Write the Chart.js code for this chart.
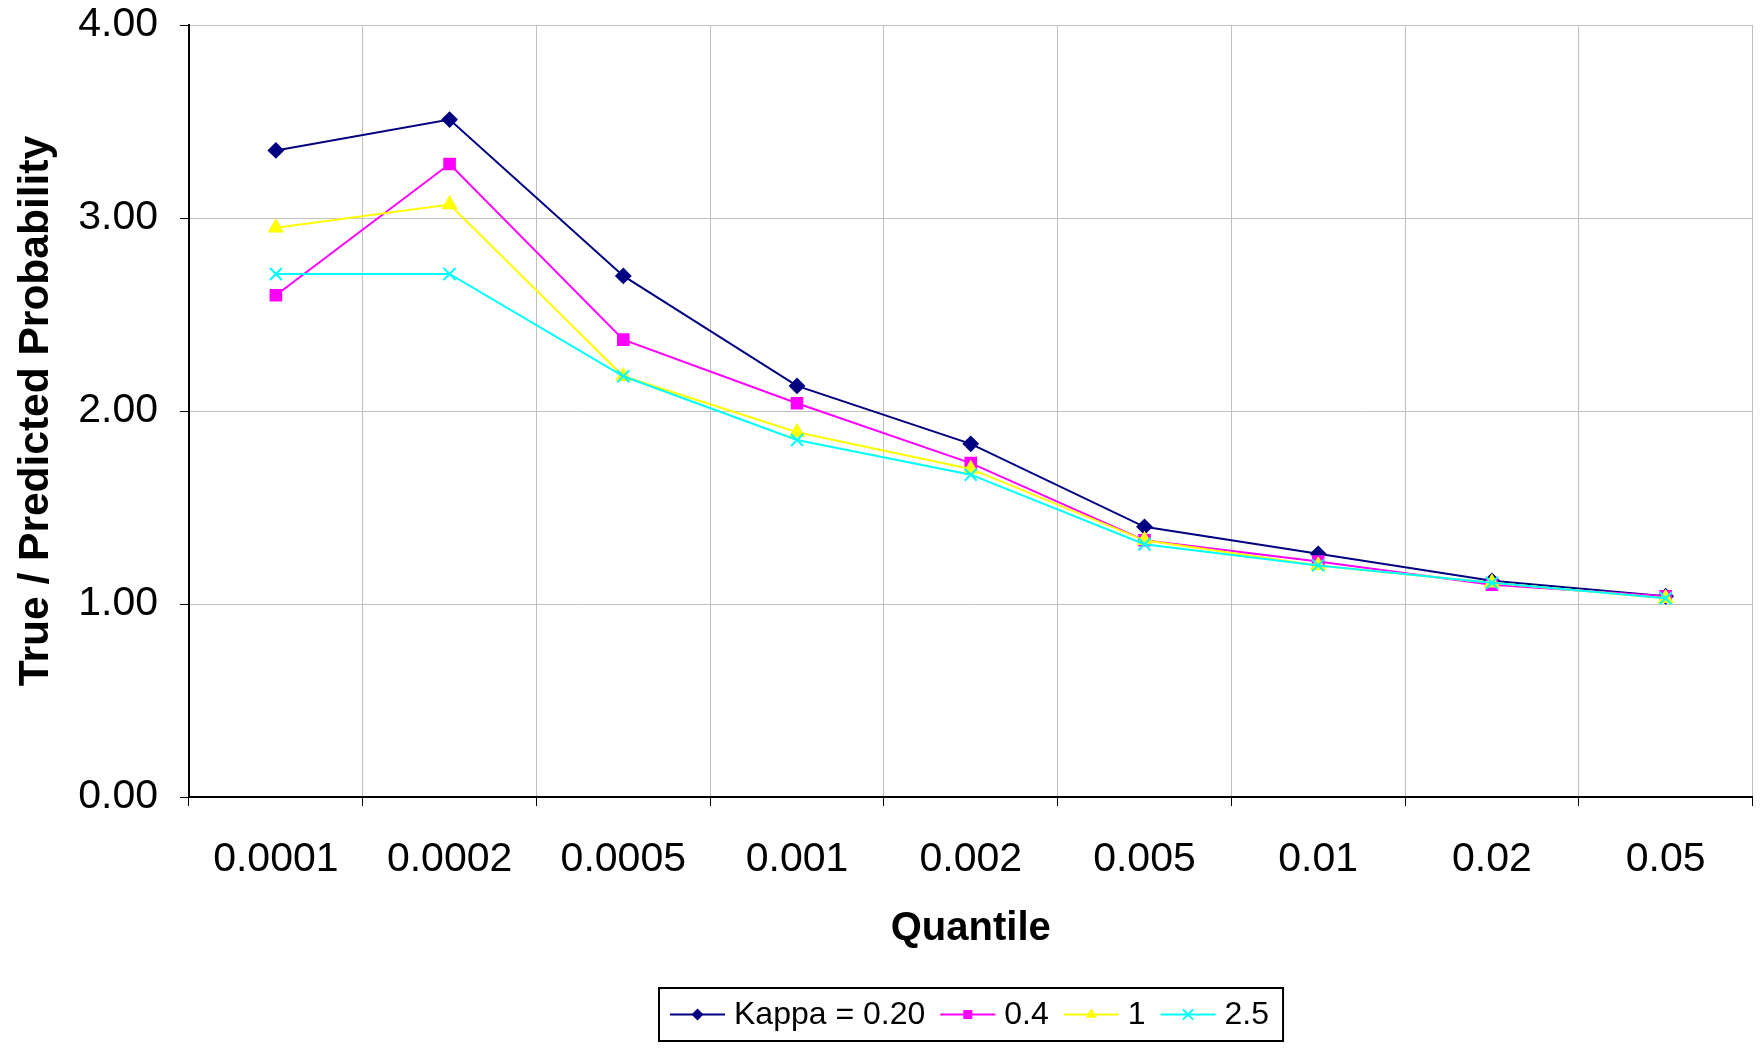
<!DOCTYPE html>
<html><head><meta charset="utf-8">
<script src="https://cdn.jsdelivr.net/npm/chart.js@4.4.0/dist/chart.umd.min.js"></script>
<style>html,body{margin:0;padding:0;background:#fff;}#wrap{width:1763px;height:1048px;position:relative;}</style>
</head><body><div id="wrap"><canvas id="c" width="1763" height="1048"></canvas></div>
<script>
const categories = ['0.0001','0.0002','0.0005','0.001','0.002','0.005','0.01','0.02','0.05'];
const seriesNames = ['Kappa = 0.20','0.4','1','2.5'];
const kappa020 = [3.35, 3.51, 2.70, 2.13, 1.83, 1.40, 1.26, 1.12, 1.04];
const kappa04  = [2.60, 3.28, 2.37, 2.04, 1.73, 1.33, 1.22, 1.10, 1.04];
const kappa1   = [2.95, 3.07, 2.18, 1.89, 1.70, 1.33, 1.20, 1.11, 1.03];
const kappa25  = [2.71, 2.71, 2.18, 1.85, 1.67, 1.31, 1.20, 1.11, 1.03];
const yTickValues = [0, 1, 2, 3, 4];
const xTitle = 'Quantile';
const yTitle = 'True / Predicted Probability';

const FONT = '"Liberation Sans", Arial, sans-serif';
const colors = ['#000080', '#FF00FF', '#FFFF00', '#00FFFF'];
const styles = ['rectRot', 'rect', 'triangle', 'crossRot'];
const radii = [7, 7.5, 7.5, 8.5];
const values = [kappa020, kappa04, kappa1, kappa25];

function marker(ctx, style, x, y, r, color) {
  ctx.save();
  ctx.fillStyle = color; ctx.strokeStyle = color; ctx.lineWidth = 2;
  ctx.beginPath();
  if (style === 'rectRot') {
    ctx.moveTo(x, y - r); ctx.lineTo(x + r, y); ctx.lineTo(x, y + r); ctx.lineTo(x - r, y); ctx.closePath();
    ctx.fill();
  } else if (style === 'rect') {
    const s = r * 0.707;
    ctx.rect(x - s, y - s, 2 * s, 2 * s); ctx.fill();
  } else if (style === 'triangle') {
    ctx.moveTo(x, y - r); ctx.lineTo(x + r * 0.866, y + r * 0.5); ctx.lineTo(x - r * 0.866, y + r * 0.5); ctx.closePath();
    ctx.fill();
  } else {
    const s = r * 0.707;
    ctx.moveTo(x - s, y - s); ctx.lineTo(x + s, y + s); ctx.moveTo(x + s, y - s); ctx.lineTo(x - s, y + s);
    ctx.stroke();
  }
  ctx.restore();
}

const legendPlugin = {
  id: 'boxLegend',
  afterDraw(chart) {
    const ctx = chart.ctx;
    ctx.save();
    ctx.font = '32px ' + FONT;
    const lineLen = 55, gapText = 9, gapItem = 15, padL = 11, padR = 14;
    const items = chart.data.datasets.map((ds, i) => ({ ds, i, w: ctx.measureText(ds.label).width }));
    let total = padL + padR;
    items.forEach((it, k) => { total += lineLen + gapText + it.w + (k ? gapItem : 0); });
    const cx = (chart.chartArea.left + chart.chartArea.right) / 2;
    const x0 = Math.round(cx - total / 2);
    const top = 988, h = 53, cy = top + h / 2;
    ctx.lineWidth = 2; ctx.strokeStyle = '#000';
    ctx.strokeRect(x0, top, total, h);
    let x = x0 + padL;
    items.forEach((it, k) => {
      if (k) x += gapItem;
      ctx.strokeStyle = it.ds.borderColor; ctx.lineWidth = 2;
      ctx.beginPath(); ctx.moveTo(x, cy); ctx.lineTo(x + lineLen, cy); ctx.stroke();
      marker(ctx, styles[it.i], x + lineLen / 2, cy, radii[it.i] * 0.85, colors[it.i]);
      x += lineLen + gapText;
      ctx.fillStyle = '#000'; ctx.textBaseline = 'middle'; ctx.textAlign = 'left';
      ctx.fillText(it.ds.label, x, cy + 1);
      x += it.w;
    });
    ctx.restore();
  }
};

const datasets = values.map((v, i) => ({
  label: seriesNames[i],
  data: v,
  borderColor: colors[i],
  backgroundColor: colors[i],
  borderWidth: 2,
  pointStyle: styles[i],
  pointRadius: radii[i],
  pointHoverRadius: radii[i],
  pointBorderWidth: 2,
  pointBorderColor: colors[i],
  pointBackgroundColor: colors[i],
  tension: 0,
  fill: false,
  order: 3 - i
}));

new Chart(document.getElementById('c'), {
  type: 'line',
  data: { labels: categories, datasets },
  options: {
    responsive: false,
    devicePixelRatio: 1,
    animation: false,
    layout: { padding: { left: 0, right: 1, top: 25, bottom: 70 } },
    plugins: { legend: { display: false }, tooltip: { enabled: false } },
    scales: {
      x: {
        type: 'category',
        offset: true,
        grid: { offset: true, color: '#C0C0C0', lineWidth: 1, tickColor: '#000', tickLength: 9, drawTicks: true },
        border: { color: '#000', width: 2 },
        ticks: { color: '#000', font: { family: FONT, size: 41 }, padding: 29, maxRotation: 0, autoSkip: false },
        title: { display: true, text: xTitle, color: '#000', font: { family: FONT, size: 40, weight: 'bold' }, padding: { top: 0, bottom: 25 } },
        afterFit(scale) { scale.height = 181; scale.paddingLeft = 0; scale.paddingRight = 0; }
      },
      y: {
        min: 0, max: 4,
        afterBuildTicks(scale) { scale.ticks = yTickValues.map(v => ({ value: v })); },
        grid: { color: '#C0C0C0', lineWidth: 1, tickColor: '#000', tickLength: 9 },
        border: { color: '#000', width: 2 },
        ticks: { color: '#000', font: { family: FONT, size: 41 }, padding: 22, callback: v => Number(v).toFixed(2) },
        title: { display: true, text: yTitle, color: '#000', font: { family: FONT, size: 42.5, weight: 'bold' }, padding: { top: 11, bottom: 0 } },
        afterFit(scale) { scale.width = 189; scale.paddingTop = 0; scale.paddingBottom = 0; }
      }
    }
  },
  plugins: [legendPlugin]
});
</script></body></html>
